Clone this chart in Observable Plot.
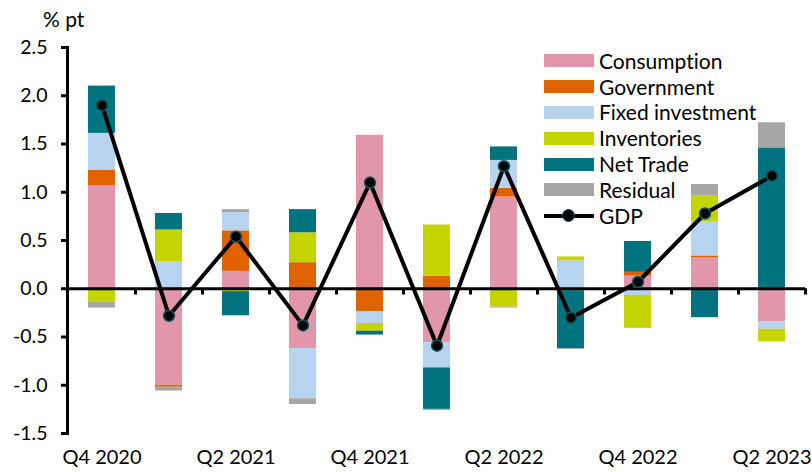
<!DOCTYPE html>
<html><head><meta charset="utf-8">
<script src="https://cdn.jsdelivr.net/npm/d3@7"></script>
<script src="https://cdn.jsdelivr.net/npm/@observablehq/plot@0.6"></script>
<style>
body{margin:0;background:#fff;font-family:Lato,"Open Sans",sans-serif;font-variant-ligatures:none;}
#wrap{position:relative;width:812px;height:472px;overflow:hidden;}
#wrap svg{position:absolute;left:0;top:0;font-variant-ligatures:none;}
.unit{position:absolute;left:43px;top:8px;font-size:21px;line-height:22px;color:#000;}
.legend{position:absolute;left:544px;top:48px;}
.row{position:relative;height:25.8px;display:flex;align-items:center;}
.sw{width:50px;height:13px;margin-right:5px;}
.lab{font-size:21px;color:#000;line-height:22px;font-variant-ligatures:none;}
.gdpsw{position:relative;width:50px;height:13px;margin-right:5px;}
.gdpsw .ln{position:absolute;left:0;top:4.5px;width:50px;height:4px;background:#000;}
.gdpsw .dt{position:absolute;left:18px;top:0px;width:11px;height:11px;border-radius:50%;background:#000;border:1.5px solid #0a5a63;}
</style></head><body><div id="wrap"></div>
<script>
const quarters = ["Q4 2020","Q1 2021","Q2 2021","Q3 2021","Q4 2021","Q1 2022","Q2 2022","Q3 2022","Q4 2022","Q1 2023","Q2 2023"];
const seriesNames = ["Consumption","Government","Fixed investment","Inventories","Net Trade","Residual"];
const seriesColors = ["#E296AA","#E06100","#B8D3F0","#C4D400","#00737F","#A6A6A6"];
const consumption     = [1.07,-1.00, 0.18,-0.62, 1.59,-0.56, 0.95, 0.00, 0.13, 0.32,-0.34];
const government      = [0.16,-0.02, 0.42, 0.27,-0.24, 0.13, 0.09,-0.02, 0.04, 0.02, 0.00];
const fixedInvestment = [0.38, 0.28, 0.19,-0.52,-0.12,-0.26, 0.29, 0.29,-0.07, 0.35,-0.08];
const inventories     = [-0.14,0.33,-0.03, 0.31,-0.08, 0.53,-0.19, 0.04,-0.34, 0.27,-0.13];
const netTrade        = [0.49, 0.17,-0.25, 0.24,-0.04,-0.43, 0.14,-0.60, 0.32,-0.30, 1.46];
const residual        = [-0.06,-0.04,0.03,-0.06, 0.00,-0.01,-0.01,-0.01, 0.00, 0.12, 0.26];
const gdp             = [1.90,-0.28, 0.54,-0.38, 1.10,-0.59, 1.27,-0.30, 0.07, 0.78, 1.17];
const yTicks = [-1.5,-1.0,-0.5,0.0,0.5,1.0,1.5,2.0,2.5];

const seriesValues = [consumption, government, fixedInvestment, inventories, netTrade, residual];
const rows = seriesNames.flatMap((name, s) => seriesValues[s].map((v, i) => ({quarter: quarters[i], series: name, value: v})));
const gdpRows = quarters.map((q, i) => ({quarter: q, value: gdp[i]}));

const W = 812, H = 472, mL = 67, mR = 7;
const step = (W - mL - mR) / quarters.length;

const chart = Plot.plot({
  width: W, height: H,
  marginLeft: mL, marginRight: mR, marginTop: 47, marginBottom: 39,
  style: {fontFamily: "Lato, 'Open Sans', sans-serif", fontSize: "19px", color: "#000", background: "#fff", overflow: "visible"},
  x: {domain: quarters, paddingInner: 0.6, paddingOuter: 0.3, label: null},
  y: {domain: [-1.5, 2.5], label: null},
  color: {domain: seriesNames, range: seriesColors},
  marks: [
    Plot.barY(rows, {x: "quarter", y: "value", fill: "series", order: seriesNames}),
    Plot.ruleY([0], {stroke: "#000", strokeWidth: 3}),
    Plot.ruleX(quarters, {x: d => d, y1: 0, y2: -0.065, dx: step / 2, stroke: "#000", strokeWidth: 3}),
    Plot.frame({anchor: "left", stroke: "#000", strokeWidth: 3}),
    Plot.axisY({ticks: yTicks, tickFormat: d => d.toFixed(1), tickSize: 6, tickPadding: 14, strokeWidth: 3, fontSize: 19.5}),
    Plot.axisX({ticks: quarters.filter((_, i) => i % 2 === 0), tickSize: 0, tickPadding: 16, fontSize: 20}),
    Plot.line(gdpRows, {x: "quarter", y: "value", stroke: "#000", strokeWidth: 4}),
    Plot.dot(gdpRows, {x: "quarter", y: "value", r: 5.5, fill: "#000", stroke: "#0a5a63", strokeWidth: 1.5})
  ]
});
const wrap = document.getElementById("wrap");
wrap.appendChild(chart);

const unit = document.createElement("div");
unit.className = "unit"; unit.textContent = "% pt";
wrap.appendChild(unit);

const leg = document.createElement("div");
leg.className = "legend";
seriesNames.forEach((n, i) => {
  const r = document.createElement("div"); r.className = "row";
  const sw = document.createElement("div"); sw.className = "sw"; sw.style.background = seriesColors[i];
  const lb = document.createElement("div"); lb.className = "lab"; lb.textContent = n;
  r.appendChild(sw); r.appendChild(lb); leg.appendChild(r);
});
{
  const r = document.createElement("div"); r.className = "row";
  const sw = document.createElement("div"); sw.className = "gdpsw";
  sw.innerHTML = '<div class="ln"></div><div class="dt"></div>';
  const lb = document.createElement("div"); lb.className = "lab"; lb.textContent = "GDP";
  r.appendChild(sw); r.appendChild(lb); leg.appendChild(r);
}
wrap.appendChild(leg);
</script>
</body></html>
